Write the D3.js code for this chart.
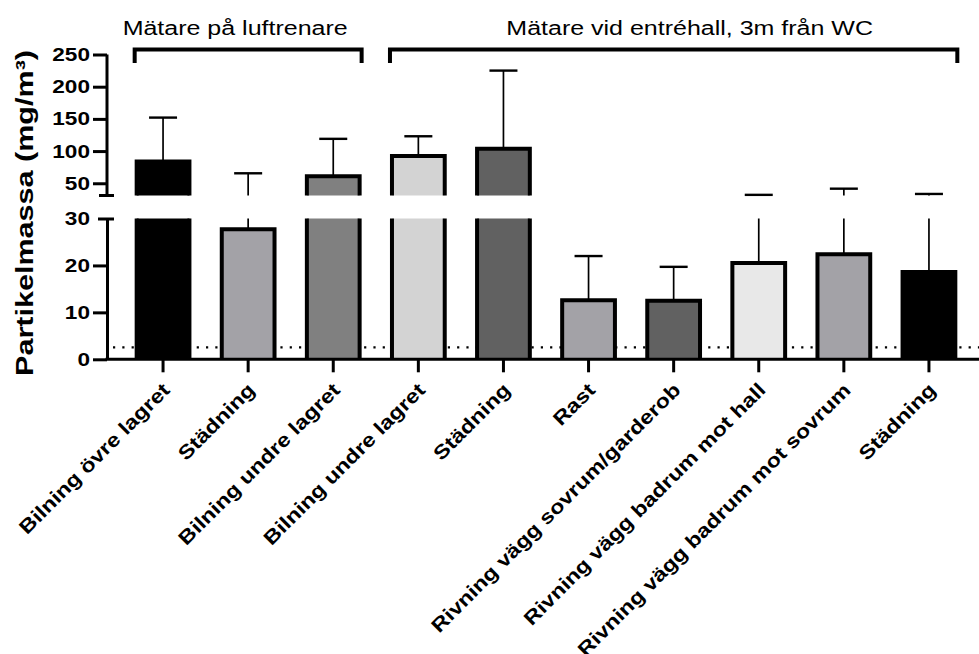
<!DOCTYPE html>
<html>
<head>
<meta charset="utf-8">
<script src="https://cdn.jsdelivr.net/npm/d3@7"></script>
<style>
  body { margin: 0; background: #fff; }
  svg { display: block; font-family: "Liberation Sans", Arial, sans-serif; }
</style>
</head>
<body>
<div id="chart"></div>
<script>
// data
const categories = ["Bilning övre lagret", "Städning", "Bilning undre lagret", "Bilning undre lagret", "Städning",
    "Rast", "Rivning vägg sovrum/garderob", "Rivning vägg badrum mot hall", "Rivning vägg badrum mot sovrum", "Städning"];
const means = [84, 27.7, 61, 92.5, 103.5, 12.6, 12.5, 20.5, 22.4, 18.6];
const errors = [68, 37.8, 58, 30.5, 121.5, 9.4, 7.2, 11.5, 19.2, 14.8];
const barColors = ["#000000", "#a3a2a7", "#808080", "#d3d3d3", "#616161", "#a3a2a7", "#616161", "#e8e8e8", "#a3a2a7", "#000000"];
const upperTicks = [50, 100, 150, 200, 250];
const lowerTicks = [0, 10, 20, 30];
const groupLabels = ["Mätare på luftrenare", "Mätare vid entréhall, 3m från WC"];
const groupFirst = [0, 3];
const groupLast = [2, 9];
const referenceLine = 2.55;

const canvasWidth = 979;
const canvasHeight = 654;
const axisX = 107;
const labelShift = [-13, 16];
const stretch = 1.19; // the reference text is drawn wide

const svg = d3.select("#chart")
    .append("svg")
    .attr("width", canvasWidth)
    .attr("height", canvasHeight);

const x = d3.scaleBand()
    .domain(d3.range(categories.length))
    .range([120.5, 971.5])
    .paddingInner(0.38)
    .paddingOuter(0.19);
const yLow = d3.scaleLinear().domain([0, 30]).range([359.3, 218.5]);
const yHigh = d3.scaleLinear().domain([31, 250]).range([195.5, 54.5]);
const bw = x.bandwidth();
const cx = i => x(i) + bw / 2;

// dotted reference line, behind the bars
svg.append("line")
    .attr("x1", axisX + 6).attr("x2", canvasWidth)
    .attr("y1", yLow(referenceLine)).attr("y2", yLow(referenceLine))
    .attr("stroke", "#000")
    .attr("stroke-width", 2.2)
    .attr("stroke-dasharray", "2.2,7.1");

// bars, drawn once per axis segment
const segments = [
    { y: yLow, lo: 0, hi: 30 },
    { y: yHigh, lo: 31, hi: 250 }
];

segments.forEach(seg => {
    const visible = d3.range(means.length).filter(i => means[i] > seg.lo);
    const g = svg.append("g");
    g.selectAll("rect")
        .data(visible)
        .join("rect")
        .attr("x", i => x(i))
        .attr("width", bw)
        .attr("y", i => seg.y(Math.min(means[i], seg.hi)))
        .attr("height", i => seg.y(seg.lo) - seg.y(Math.min(means[i], seg.hi)))
        .attr("fill", i => barColors[i]);
    g.selectAll("path")
        .data(visible)
        .join("path")
        .attr("fill", "none")
        .attr("stroke", "#000")
        .attr("stroke-width", 4)
        .attr("d", i => {
            const top = seg.y(Math.min(means[i], seg.hi));
            const bottom = seg.y(seg.lo);
            if (means[i] > seg.hi) {
                return `M${x(i)},${bottom}V${top}M${x(i) + bw},${top}V${bottom}`;
            }
            return `M${x(i)},${bottom}V${top}H${x(i) + bw}V${bottom}`;
        });

    // error bars (upper SD only)
    const eg = svg.append("g").attr("stroke", "#000");
    d3.range(means.length).forEach(i => {
        const top = means[i] + errors[i];
        const from = Math.max(means[i], seg.lo);
        const to = Math.min(top, seg.hi);
        if (to <= from) return;
        eg.append("line")
            .attr("x1", cx(i)).attr("x2", cx(i))
            .attr("y1", seg.y(from)).attr("y2", seg.y(to))
            .attr("stroke-width", 1.7);
        if (top <= seg.hi) {
            eg.append("line")
                .attr("x1", cx(i) - 14).attr("x2", cx(i) + 14)
                .attr("y1", seg.y(top)).attr("y2", seg.y(top))
                .attr("stroke-width", 2.4);
        }
    });
});

// y axes
const styleAxis = (g) => {
    g.selectAll(".domain").attr("stroke-width", 3).attr("stroke", "#000");
    g.selectAll(".tick line").attr("stroke-width", 3).attr("stroke", "#000");
    g.selectAll(".tick text")
        .attr("fill", "#000")
        .attr("font-family", "Liberation Sans, Arial, sans-serif")
        .attr("font-size", 19)
        .attr("font-weight", "bold")
        .attr("x", 0)
        .attr("transform", "translate(-17,0) scale(1.19,1)");
};

const upperAxis = svg.append("g")
    .attr("transform", `translate(${axisX},0)`)
    .call(d3.axisLeft(yHigh).tickValues(upperTicks).tickSize(14).tickSizeOuter(0))
    .call(styleAxis);
upperAxis.select(".domain").attr("d", `M0,${yHigh(31)}V${yHigh(250)}`);
upperAxis.append("line")
    .attr("x1", -8).attr("x2", 7)
    .attr("y1", yHigh(31)).attr("y2", yHigh(31))
    .attr("stroke", "#000").attr("stroke-width", 3);

const lowerAxis = svg.append("g")
    .attr("transform", `translate(${axisX},0)`)
    .call(d3.axisLeft(yLow).tickValues(lowerTicks).tickSize(14).tickSizeOuter(0))
    .call(styleAxis);
lowerAxis.selectAll(".tick").filter(d => d === 30).select("line")
    .attr("x1", 7).attr("x2", -9);

// x axis: baseline, ticks, rotated labels
svg.append("line")
    .attr("x1", axisX - 1.5).attr("x2", canvasWidth)
    .attr("y1", yLow(0)).attr("y2", yLow(0))
    .attr("stroke", "#000").attr("stroke-width", 3);

svg.append("g")
    .selectAll("line")
    .data(d3.range(categories.length))
    .join("line")
    .attr("x1", i => cx(i)).attr("x2", i => cx(i))
    .attr("y1", yLow(0)).attr("y2", yLow(0) + 13)
    .attr("stroke", "#000").attr("stroke-width", 3);

svg.append("g")
    .selectAll("text")
    .data(d3.range(categories.length))
    .join("text")
    .attr("transform", i => `translate(${cx(i) + 8},${yLow(0) + 32}) rotate(-45) scale(${stretch},1)`)
    .attr("text-anchor", "end")
    .attr("font-size", 19.5)
    .attr("font-weight", "bold")
    .text(i => categories[i]);

// y axis title
svg.append("text")
    .attr("transform", `translate(33,213) rotate(-90) scale(1.3,1)`)
    .attr("text-anchor", "middle")
    .attr("font-size", 23.5)
    .attr("font-weight", "bold")
    .text("Partikelmassa (mg/m³)");

// group brackets and labels
groupLabels.forEach((label, k) => {
    const x0 = x(groupFirst[k]) - 2;
    const x1 = x(groupLast[k]) + bw + 2;
    svg.append("path")
        .attr("d", `M${x0},63V49.5H${x1}V63`)
        .attr("fill", "none")
        .attr("stroke", "#000")
        .attr("stroke-width", 4);
    svg.append("text")
        .attr("transform", `translate(${(x0 + x1) / 2 + labelShift[k]},35) scale(1.25,1)`)
        .attr("text-anchor", "middle")
        .attr("font-size", 20)
        .text(label);
});
</script>
</body>
</html>
